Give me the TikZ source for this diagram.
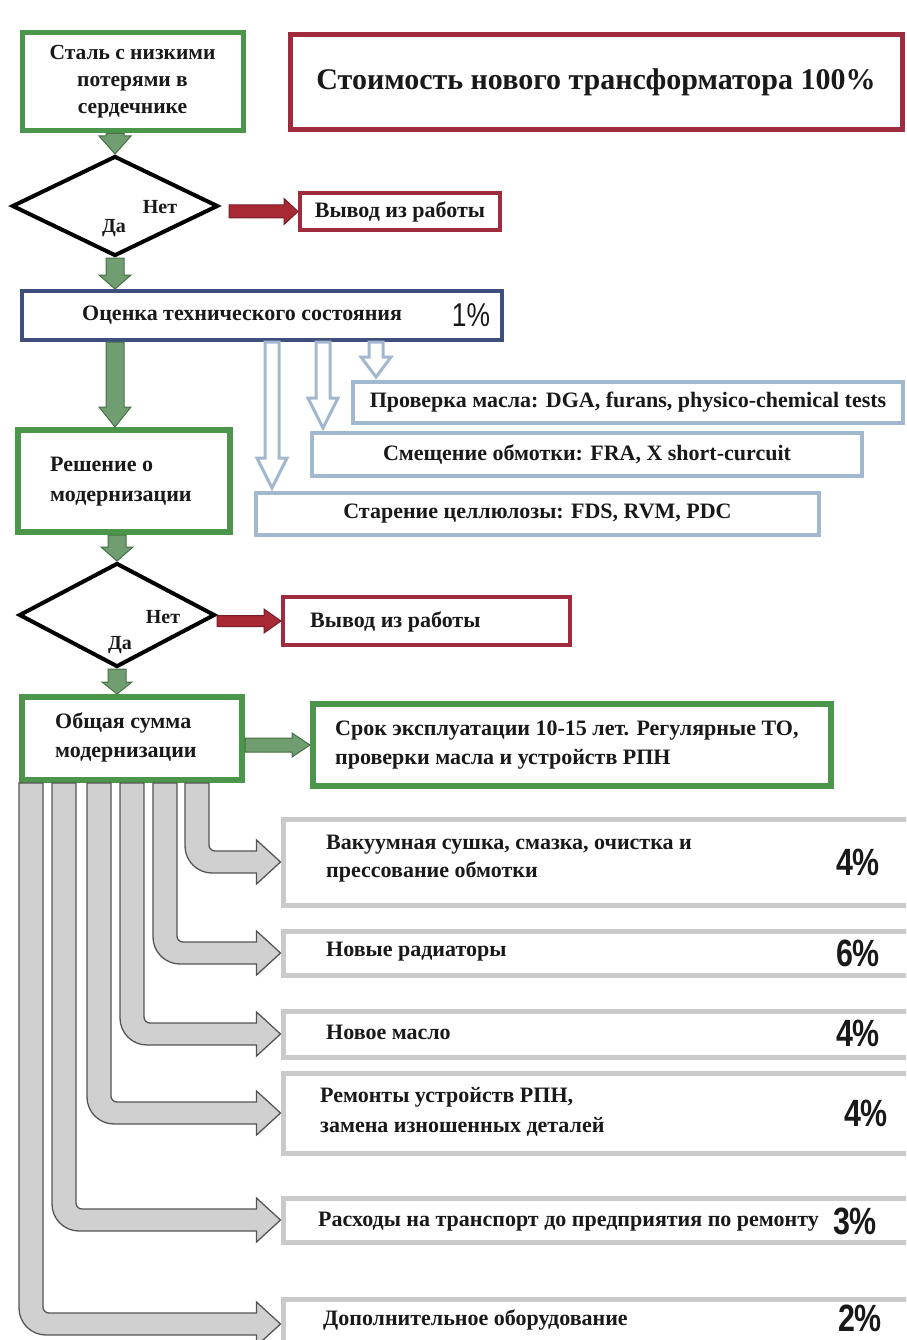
\documentclass[tikz,border=0pt]{standalone}
\usepackage{fontspec}
\setmainfont{Liberation Serif}
\newfontfamily\pctfont{Liberation Sans}[FakeStretch=0.8]
\usetikzlibrary{shapes.geometric,calc}
\definecolor{grn}{RGB}{76,150,76}
\definecolor{grnfill}{RGB}{112,158,112}
\definecolor{grnline}{RGB}{70,112,70}
\definecolor{mred}{RGB}{160,42,62}
\definecolor{redfill}{RGB}{168,40,52}
\definecolor{redline}{RGB}{120,30,40}
\definecolor{navy}{RGB}{62,78,125}
\definecolor{lblue}{RGB}{162,184,206}
\definecolor{lgray}{RGB}{202,202,202}
\definecolor{agray}{RGB}{208,208,208}
\definecolor{aline}{RGB}{85,85,85}
\definecolor{ink}{RGB}{25,25,25}
\newcommand{\vblk}[6]{%
 \path[#1] let \p1=(#2), \p2=(#3) in
 (\x2-#4,\y1) -- (\x2-#4,\y2+#6) -- (\x2-#5,\y2+#6) -- (\x2,\y2) -- (\x2+#5,\y2+#6) -- (\x2+#4,\y2+#6) -- (\x2+#4,\y1) -- cycle;}
\newcommand{\hblk}[6]{%
 \path[#1] let \p1=(#2), \p2=(#3) in
 (\x1,\y2+#4) -- (\x2-#6,\y2+#4) -- (\x2-#6,\y2+#5) -- (\x2,\y2) -- (\x2-#6,\y2-#5) -- (\x2-#6,\y2-#4) -- (\x1,\y2-#4) -- cycle;}
\newcommand{\bentarr}[2]{%
 \path[grayarr] let \p1=(obsh.south west), \p2=(#1.west) in
 (\x1+#2,\y1) -- (\x1+#2,\y2-11pt+27pt) arc[start angle=180,end angle=270,radius=27pt]
 -- (\x2-24pt,\y2-11pt) -- (\x2-24pt,\y2-22pt) -- (\x2,\y2) -- (\x2-24pt,\y2+22pt) -- (\x2-24pt,\y2+11pt)
 -- (\x1+#2+30pt,\y2+11pt) arc[start angle=270,end angle=180,radius=6pt] -- (\x1+#2+24pt,\y1) -- cycle;}
\tikzset{
 txt/.style={font=\bfseries\fontsize{22}{27}\selectfont, text=ink, inner sep=0pt},
 ltxt/.style={txt, align=left, anchor=west},
 gbox/.style={draw=grn, line width=5pt, fill=white, inner sep=0pt, txt, align=center},
 rbox/.style={draw=mred, line width=4pt, fill=white, inner sep=0pt, txt, align=center},
 bbox/.style={draw=navy, line width=4pt, fill=white, inner sep=0pt},
 lbbox/.style={draw=lblue, line width=4pt, fill=white, inner sep=0pt, txt, align=center},
 grbox/.style={draw=lgray, line width=5pt, fill=white, inner sep=0pt},
 dec/.style={diamond, draw=black, line width=4pt, fill=white, inner sep=0pt},
 lab/.style={font=\bfseries\fontsize{20}{24}\selectfont, text=ink, inner sep=0pt},
 pct/.style={font=\pctfont\bfseries\fontsize{38}{40}\selectfont, text=ink, inner sep=0pt},
 garr/.style={fill=grnfill, draw=grnline, line width=1pt},
 rarr/.style={fill=redfill, draw=redline, line width=1pt},
 hollow/.style={fill=white, draw=lblue, line width=3pt},
 grayarr/.style={fill=agray, draw=aline, line width=1.3pt},
}
\begin{document}
\begin{tikzpicture}[x=1pt,y=1pt]
\clip (0,0) rectangle (906,-1340);
\fill[white] (0,0) rectangle (906,-1340);
% boxes
\node[gbox, minimum width=221pt, minimum height=98pt, font=\bfseries\fontsize{21.5}{27}\selectfont] (b1) at (132.5,-82) {Сталь с низкими\\потерями в\\сердечнике};
\node[rbox, line width=5pt, minimum width=612pt, minimum height=95pt, font=\bfseries\fontsize{30}{36}\selectfont] (title) at (596,-82.5) {Стоимость нового трансформатора 100\%};
\node[dec, minimum width=206pt, minimum height=100pt] (d1) at (115,-206) {};
\node[lab] (d1no) at (160,-207) {Нет};
\node[lab] (d1yes) at (114,-228) {Да};
\node[rbox, minimum width=200pt, minimum height=37pt] (red1) at (400,-211.5) {Вывод из работы};
\node[bbox, minimum width=480pt, minimum height=49pt] (ocen) at (262,-315.5) {};
\node[ltxt] (ocent) at (82,-315) {Оценка технического состояния};
\node[pct, font=\pctfont\fontsize{33}{35}\selectfont] (p1) at (471,-315) {1\%};
\node[lbbox, minimum width=550pt, minimum height=41pt] (prov) at (628,-402.5) {Проверка масла: DGA, furans, physico-chemical tests};
\node[lbbox, minimum width=550pt, minimum height=43pt] (smesh) at (587,-454.5) {Смещение обмотки: FRA, X short-curcuit};
\node[lbbox, minimum width=563pt, minimum height=42pt] (star) at (537.5,-514) {Старение целлюлозы: FDS, RVM, PDC};
\node[gbox, line width=6pt, minimum width=212pt, minimum height=102pt] (resh) at (124,-481) {};
\node[ltxt, font=\bfseries\fontsize{22}{30}\selectfont] (resht) at (50,-482) {Решение о\\модернизации};
\node[dec, minimum width=196pt, minimum height=104pt] (d2) at (117,-615) {};
\node[lab] (d2no) at (163,-617) {Нет};
\node[lab] (d2yes) at (120,-645) {Да};
\node[rbox, minimum width=287pt, minimum height=48pt] (red2) at (426.5,-621) {};
\node[ltxt] (red2t) at (310,-622) {Вывод из работы};
\node[gbox, line width=6pt, minimum width=220pt, minimum height=83pt] (obsh) at (132,-738.5) {};
\node[ltxt, font=\bfseries\fontsize{22}{29}\selectfont] (obsht) at (55,-737) {Общая сумма\\модернизации};
\node[gbox, line width=6pt, minimum width=518pt, minimum height=82pt] (srok) at (572,-745) {};
\node[ltxt, font=\bfseries\fontsize{22}{29}\selectfont] (srokt) at (335,-745) {Срок эксплуатации 10-15 лет. Регулярные ТО,\\проверки масла и устройств РПН};
% gray boxes
\node[grbox, minimum width=637pt, minimum height=86pt] (vak) at (601.5,-862) {};
\node[grbox, minimum width=637pt, minimum height=44pt] (rad) at (601.5,-953) {};
\node[grbox, minimum width=637pt, minimum height=46pt] (oil) at (601.5,-1034) {};
\node[grbox, minimum width=637pt, minimum height=80pt] (rpn) at (601.5,-1113) {};
\node[grbox, minimum width=637pt, minimum height=44pt] (tr) at (601.5,-1220) {};
\node[grbox, minimum width=637pt, minimum height=50pt] (dop) at (601.5,-1324) {};
\node[ltxt, font=\bfseries\fontsize{22}{28}\selectfont] (vakt) at (326,-859) {Вакуумная сушка, смазка, очистка и\\прессование обмотки};
\node[ltxt] (radt) at (326,-952) {Новые радиаторы};
\node[ltxt] (oilt) at (326,-1032) {Новое масло};
\node[ltxt, font=\bfseries\fontsize{22}{30}\selectfont] (rpnt) at (320,-1112) {Ремонты устройств РПН,\\замена изношенных деталей};
\node[ltxt] (trt) at (318,-1222) {Расходы на транспорт до предприятия по ремонту};
\node[ltxt] (dopt) at (323,-1320) {Дополнительное оборудование};
\node[pct] (p2) at (858,-862) {4\%};
\node[pct] (p3) at (858,-953) {6\%};
\node[pct] (p4) at (858,-1033) {4\%};
\node[pct] (p5) at (866,-1113) {4\%};
\node[pct] (p6) at (855,-1221) {3\%};
\node[pct] (p7) at (860,-1318) {2\%};
% green arrows
\vblk{garr}{b1.south}{d1.north}{9pt}{16pt}{18pt}
\vblk{garr}{d1.south}{d1.south |- ocen.north}{9pt}{16pt}{14pt}
\vblk{garr}{d1.south |- ocen.south}{d1.south |- resh.north}{9pt}{16pt}{20pt}
\vblk{garr}{resh.south}{d2.north}{9pt}{16pt}{14pt}
\vblk{garr}{d2.south}{d2.south |- obsh.north}{9pt}{15pt}{12pt}
\hblk{garr}{obsh.east}{srok.west}{7pt}{12pt}{18pt}
% red arrows
\coordinate (r1s) at ($(d1.east)+(9,0)$);
\hblk{rarr}{r1s}{red1.west}{6.5pt}{13pt}{14pt}
\hblk{rarr}{d2.east}{red2.west}{5.5pt}{12pt}{17pt}
% hollow arrows
\coordinate (h1) at ($(star.north west)+(18,3)$);
\coordinate (h2) at ($(smesh.north west)+(13,3)$);
\coordinate (h3) at ($(prov.north west)+(25,3)$);
\vblk{hollow}{h1 |- ocen.south}{h1}{7pt}{15pt}{30pt}
\vblk{hollow}{h2 |- ocen.south}{h2}{7pt}{15pt}{30pt}
\vblk{hollow}{h3 |- ocen.south}{h3}{7pt}{15pt}{20pt}
% gray bent arrows
\bentarr{dop}{0pt}
\bentarr{tr}{33pt}
\bentarr{rpn}{68pt}
\bentarr{oil}{101pt}
\bentarr{rad}{134pt}
\bentarr{vak}{166pt}
\end{tikzpicture}
\end{document}
